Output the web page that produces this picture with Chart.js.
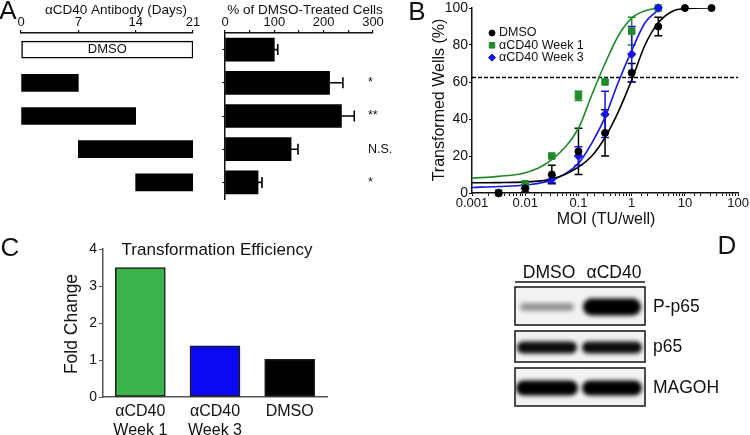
<!DOCTYPE html>
<html><head><meta charset="utf-8">
<script src="https://cdn.jsdelivr.net/npm/chart.js@4.4.1/dist/chart.umd.min.js"></script>
<style>
html,body{margin:0;padding:0;background:#fff;}
#wrap{position:relative;width:750px;height:435px;overflow:hidden;background:#fff;}
canvas{position:absolute;}
</style></head><body>
<div id="wrap">
<canvas id="cA1" width="215" height="200" style="left:0px;top:0px"></canvas>
<canvas id="cA2" width="195" height="200" style="left:210px;top:0px"></canvas>
<canvas id="cB" width="370" height="232" style="left:380px;top:0px"></canvas>
<canvas id="cC" width="380" height="215" style="left:0px;top:220px"></canvas>
<canvas id="cD" width="270" height="215" style="left:480px;top:220px"></canvas>
</div>
<script>
// ---------- Panel A data ----------
const treatmentRows = ['DMSO', 'αCD40 d0–7', 'αCD40 d0–14', 'αCD40 d7–21', 'αCD40 d14–21'];
const treatStartDay = [0, 0, 0, 7, 14];
const treatEndDay = [21, 7, 14, 21, 21];
const dayTicks = [0, 7, 14, 21];
const pctOfDmso = [100, 212, 236, 134, 67];
const pctOfDmsoErr = [7, 27, 26, 14, 8];
const significance = ['', '*', '**', 'N.S.', '*'];
const pctTicks = [0, 50, 100, 150, 200, 250, 300];

// ---------- Panel B data ----------
const moi = [0.00316, 0.01, 0.0316, 0.1, 0.316, 1, 3.16, 10, 31.6];
const dmsoPct = [0, 2.5, 10, 22.5, 32.5, 65, 90, 100, 100];
const dmsoSem = [0, 2, 5, 12.5, 12.5, 5, 5, 0, 0];
const week1Pct = [0, 5, 20, 52.5, 60, 87.5, 100];
const week1Sem = [0, 0, 0, 2.5, 0, 7.5, 0];
const week3Pct = [0, 2.5, 7.5, 20, 42.5, 75, 100];
const week3Sem = [0, 0, 2, 5, 12.5, 15, 0];
const curveMoi = [0.001, 0.00316, 0.01, 0.0316, 0.1, 0.178, 0.316, 0.562, 1, 1.78, 3.16, 5.62, 10, 31.6];
const dmsoFit = [5.5, 5.6, 6, 7.5, 14, 20, 30, 44, 61, 80, 92, 98, 99.7, 100];
const week1Fit = [8, 9, 11, 18, 35, 53, 70, 85, 94.5, 98.5, 100];
const week3Fit = [3, 3.5, 4.3, 7, 16, 27, 41, 60, 77, 92, 99];
const thresholdPct = 62.5;
const moiRange = [0.001, 100];

// ---------- Panel C data ----------
const effCategories = [['αCD40', 'Week 1'], ['αCD40', 'Week 3'], 'DMSO'];
const foldChange = [3.5, 1.38, 1.02];

// ---------- Panel D data ----------
const blotLanes = ['DMSO', 'αCD40'];
const blotProteins = ['P-p65', 'p65', 'MAGOH'];
const bandIntensity = [[0.38, 1.0], [0.95, 0.95], [1.0, 1.0]];

// ---------- common ----------
const FONT = "'Liberation Sans', Arial, Helvetica, sans-serif";
Chart.defaults.font.family = FONT;
Chart.defaults.color = '#111';
Chart.defaults.animation = false;
Chart.defaults.responsive = false;
Chart.defaults.devicePixelRatio = 1;
Chart.defaults.plugins.legend.display = false;
Chart.defaults.plugins.tooltip.enabled = false;

const GREEN = '#1f8a2a', BLUE = '#1414e6';

function textLayer(id, itemsFn) {
  return { id, afterDraw(chart) {
    const ctx = chart.ctx;
    itemsFn(chart).forEach(t => {
      ctx.save();
      ctx.font = (t.weight || 'normal') + ' ' + t.size + 'px ' + FONT;
      ctx.fillStyle = t.color || '#111';
      ctx.textAlign = t.align || 'center';
      ctx.textBaseline = 'middle';
      ctx.translate(t.x, t.y);
      if (t.rotate) ctx.rotate(t.rotate);
      ctx.fillText(t.text, 0, 0);
      ctx.restore();
    });
  }};
}

const errBarsH = { id: 'errH', afterDatasetsDraw(chart) {
  const ctx = chart.ctx, xs = chart.scales.x;
  chart.data.datasets.forEach((ds, di) => {
    if (!ds.errPlus) return;
    chart.getDatasetMeta(di).data.forEach((bar, i) => {
      const e = ds.errPlus[i]; if (!e) return;
      const xe = xs.getPixelForValue(ds.data[i] + e);
      ctx.save(); ctx.strokeStyle = '#000'; ctx.lineWidth = 1.6;
      ctx.beginPath(); ctx.moveTo(bar.x, bar.y); ctx.lineTo(xe, bar.y);
      ctx.moveTo(xe, bar.y - 5.5); ctx.lineTo(xe, bar.y + 5.5); ctx.stroke(); ctx.restore();
    });
  });
}};

const errBarsV = { id: 'errV', beforeDatasetsDraw(chart) {
  const ctx = chart.ctx, ys = chart.scales.y;
  chart.data.datasets.forEach((ds, di) => {
    if (!ds.errs) return;
    chart.getDatasetMeta(di).data.forEach((pt, i) => {
      const e = ds.errs[i]; if (!e) return;
      const v = ds.data[i].y;
      const y1 = ys.getPixelForValue(v + e), y2 = ys.getPixelForValue(v - e);
      ctx.save(); ctx.strokeStyle = ds.borderColor; ctx.lineWidth = 1.5; ctx.beginPath();
      ctx.moveTo(pt.x, y1); ctx.lineTo(pt.x, y2);
      ctx.moveTo(pt.x - 4, y1); ctx.lineTo(pt.x + 4, y1);
      ctx.moveTo(pt.x - 4, y2); ctx.lineTo(pt.x + 4, y2);
      ctx.stroke(); ctx.restore();
    });
  });
}};

// ---------- Panel A left: treatment timeline ----------
new Chart(document.getElementById('cA1'), {
  type: 'bar',
  data: { labels: treatmentRows, datasets: [{
    data: treatmentRows.map((_, i) => [treatStartDay[i], treatEndDay[i]]),
    backgroundColor: treatmentRows.map((_, i) => i === 0 ? '#ffffff' : '#000000'),
    borderColor: '#000', borderWidth: treatmentRows.map((_, i) => i === 0 ? 1.5 : 0),
    borderSkipped: false, barThickness: 17 }] },
  options: {
    indexAxis: 'y',
    layout: { padding: { left: 21, right: 22, top: 0, bottom: 1 } },
    scales: {
      x: { position: 'top', min: 0, max: 21,
        afterBuildTicks: s => { s.ticks = dayTicks.map(v => ({ value: v })); },
        ticks: { font: { size: 13, lineHeight: 1 }, padding: 1, maxRotation: 0, autoSkip: false, color: '#111' },
        grid: { drawOnChartArea: false, tickLength: 3, color: '#111', lineWidth: 1.2 },
        border: { color: '#111', width: 1.5 },
        afterFit: s => { s.height = 33; } },
      y: { display: false }
    }
  },
  plugins: [textLayer('tA1', chart => {
    const b = chart.getDatasetMeta(0).data[0];
    return [
      { text: 'A', x: 8, y: 12, size: 26 },
      { text: 'αCD40 Antibody (Days)', x: 116, y: 10, size: 13.5 },
      { text: treatmentRows[0], x: (b.x + b.base) / 2, y: b.y, size: 13 }
    ];
  })]
});

// ---------- Panel A right: % of DMSO ----------
new Chart(document.getElementById('cA2'), {
  type: 'bar',
  data: { labels: treatmentRows, datasets: [{ data: pctOfDmso, errPlus: pctOfDmsoErr, backgroundColor: '#000', barThickness: 23 }] },
  options: {
    indexAxis: 'y',
    layout: { padding: { left: 0, right: 32, top: 0, bottom: 1 } },
    scales: {
      x: { position: 'top', min: 0, max: 300,
        afterBuildTicks: s => { s.ticks = pctTicks.map(v => ({ value: v })); },
        ticks: { callback: v => (v % 100 === 0 ? String(v) : ''), font: { size: 13, lineHeight: 1 }, padding: 1, maxRotation: 0, autoSkip: false, color: '#111' },
        grid: { drawOnChartArea: false, tickLength: 3, color: '#111', lineWidth: 1.2 },
        border: { color: '#111', width: 1.5 },
        afterFit: s => { s.height = 33; } },
      y: { ticks: { display: false },
        grid: { drawOnChartArea: false, offset: false, tickLength: 3, color: '#111' },
        border: { color: '#111', width: 1.5 },
        afterFit: s => { s.width = 15; } }
    }
  },
  plugins: [errBarsH, textLayer('tA2', chart => {
    const bars = chart.getDatasetMeta(0).data;
    const items = [{ text: '% of DMSO-Treated Cells', x: 95, y: 10, size: 13.5 }];
    significance.forEach((s, i) => { if (s) items.push({ text: s, x: 158, y: bars[i].y, size: 12.5, align: 'left' }); });
    return items;
  })]
});

// ---------- Panel B: transformation curves ----------
const pts = (xs, ys) => ys.map((y, i) => ({ x: xs[i], y }));
new Chart(document.getElementById('cB'), {
  type: 'line',
  data: { datasets: [
    { label: 'DMSO', data: pts(moi, dmsoPct), errs: dmsoSem, showLine: false, pointStyle: 'circle', pointRadius: 3.5, pointBorderWidth: 1, backgroundColor: '#000', borderColor: '#000', order: 0, clip: false },
    { label: 'αCD40 Week 1', data: pts(moi, week1Pct), errs: week1Sem, showLine: false, pointStyle: 'rect', pointRadius: 4.6, pointBorderWidth: 1, backgroundColor: GREEN, borderColor: GREEN, order: 2, clip: false },
    { label: 'αCD40 Week 3', data: pts(moi, week3Pct), errs: week3Sem, showLine: false, pointStyle: 'rectRot', pointRadius: 4.2, pointBorderWidth: 1, backgroundColor: BLUE, borderColor: BLUE, order: 1, clip: false },
    { label: 'DMSO fit', data: pts(curveMoi, dmsoFit), pointRadius: 0, borderColor: '#000', borderWidth: 1.6, cubicInterpolationMode: 'monotone', order: 3 },
    { label: 'Week 1 fit', data: pts(curveMoi, week1Fit), pointRadius: 0, borderColor: GREEN, borderWidth: 1.6, cubicInterpolationMode: 'monotone', order: 5 },
    { label: 'Week 3 fit', data: pts(curveMoi, week3Fit), pointRadius: 0, borderColor: BLUE, borderWidth: 1.6, cubicInterpolationMode: 'monotone', order: 4 },
    { label: 'threshold', data: moiRange.map(x => ({ x, y: thresholdPct })), pointRadius: 0, borderColor: '#000', borderWidth: 1.5, borderDash: [4, 2], order: 6 }
  ] },
  options: {
    layout: { padding: { left: 0, right: 9, top: 8, bottom: 0 } },
    scales: {
      x: { type: 'logarithmic', min: moiRange[0], max: moiRange[1],
        ticks: { callback: v => { const l = Math.log10(v); return Math.abs(l - Math.round(l)) < 1e-6 ? String(Number(v.toPrecision(1))) : ''; },
          font: { size: 13, lineHeight: 1 }, padding: 1, maxRotation: 0, autoSkip: false, color: '#111' },
        grid: { drawOnChartArea: false, tickLength: 3, color: '#111' },
        border: { color: '#111', width: 1.5 },
        afterFit: s => { s.height = 39; } },
      y: { min: 0, max: 100,
        ticks: { stepSize: 20, font: { size: 14, lineHeight: 1 }, padding: 1, color: '#111' },
        grid: { drawOnChartArea: false, tickLength: 3, color: '#111' },
        border: { color: '#111', width: 1.5 },
        afterFit: s => { s.width = 92; } }
    }
  },
  plugins: [errBarsV, {
    id: 'legB', afterDraw(chart) {
      const ctx = chart.ctx;
      [0, 1, 2].forEach((di, k) => {
        const ds = chart.data.datasets[di], y = 33 + 12.3 * k;
        ctx.save();
        ctx.fillStyle = ds.backgroundColor; ctx.strokeStyle = ds.borderColor; ctx.lineWidth = 1;
        Chart.helpers.drawPoint(ctx, { pointStyle: ds.pointStyle, radius: ds.pointRadius * 0.85, rotation: 0, borderWidth: 1 }, 112, y);
        ctx.fillStyle = '#111'; ctx.font = '12.5px ' + FONT; ctx.textBaseline = 'middle'; ctx.textAlign = 'left';
        ctx.fillText(ds.label, 119, y);
        ctx.restore();
      });
    } }, textLayer('tB', () => [
      { text: 'B', x: 37, y: 13, size: 26 },
      { text: 'Transformed Wells (%)', x: 60, y: 100, size: 16, rotate: -Math.PI / 2 },
      { text: 'MOI (TU/well)', x: 226, y: 220, size: 16 }
    ])]
});

// ---------- Panel C: fold change ----------
new Chart(document.getElementById('cC'), {
  type: 'bar',
  data: { labels: effCategories, datasets: [{ data: foldChange, backgroundColor: ['#3cb44b', '#0a0af2', '#000000'], borderColor: '#1a1a1a', borderWidth: 1.5, borderSkipped: false, barThickness: 50 }] },
  options: {
    layout: { padding: { left: 0, right: 53, top: 29, bottom: 0 } },
    scales: {
      x: { ticks: { font: { size: 16 }, padding: 5, color: '#111', maxRotation: 0 },
        grid: { display: false, drawTicks: false },
        border: { color: '#555', width: 1.5 },
        afterFit: s => { s.height = 38; } },
      y: { min: 0, max: 4, ticks: { stepSize: 1, font: { size: 14, lineHeight: 1 }, padding: 2, color: '#111' },
        grid: { drawOnChartArea: false, tickLength: 4, color: '#555' },
        border: { color: '#555', width: 1.5 },
        afterFit: s => { s.width = 103; } }
    }
  },
  plugins: [textLayer('tC', () => [
    { text: 'C', x: 10, y: 29, size: 26 },
    { text: 'Transformation Efficiency', x: 217, y: 30, size: 17 },
    { text: 'Fold Change', x: 72, y: 104, size: 17.5, rotate: -Math.PI / 2 }
  ])]
});

// ---------- Panel D: western blot ----------
(function drawBlot() {
  const ctx = document.getElementById('cD').getContext('2d');
  const boxX = 35, boxW = 130;
  const boxes = [{ y: 67, h: 38 }, { y: 111, h: 31 }, { y: 148, h: 38 }];
  const bandH = [[8, 17], [12, 12], [15, 15]];
  const laneC = [67, 132], laneW = [[54, 58], [60, 60], [62, 60]];
  ctx.textBaseline = 'middle';
  ctx.textAlign = 'center'; ctx.font = '26px ' + FONT; ctx.fillStyle = '#111';
  ctx.fillText('D', 247, 27);
  ctx.font = '17.5px ' + FONT;
  ctx.fillText(blotLanes[0], 69, 53);
  ctx.fillText(blotLanes[1], 134, 53);
  ctx.strokeStyle = '#111'; ctx.lineWidth = 1.6;
  ctx.beginPath(); ctx.moveTo(35, 62); ctx.lineTo(165, 62); ctx.stroke();
  boxes.forEach((b, r) => {
    ctx.save();
    ctx.fillStyle = '#f2f2f2'; ctx.fillRect(boxX, b.y, boxW, b.h);
    ctx.beginPath(); ctx.rect(boxX, b.y, boxW, b.h); ctx.clip();
    const cy = b.y + b.h / 2 + 1;
    laneC.forEach((cx, l) => {
      const w = laneW[r][l], h = bandH[r][l];
      ctx.filter = 'blur(2.2px)';
      ctx.fillStyle = 'rgba(0,0,0,' + bandIntensity[r][l] + ')';
      ctx.beginPath();
      ctx.roundRect(cx - w / 2, cy - h / 2, w, h, h / 2);
      ctx.fill();
    });
    ctx.restore();
    ctx.strokeStyle = '#222'; ctx.lineWidth = 1.6;
    ctx.strokeRect(boxX, b.y, boxW, b.h);
    ctx.fillStyle = '#111'; ctx.textAlign = 'left'; ctx.font = '17.5px ' + FONT;
    ctx.fillText(blotProteins[r], 173, cy);
  });
})();
</script>
</body></html>
